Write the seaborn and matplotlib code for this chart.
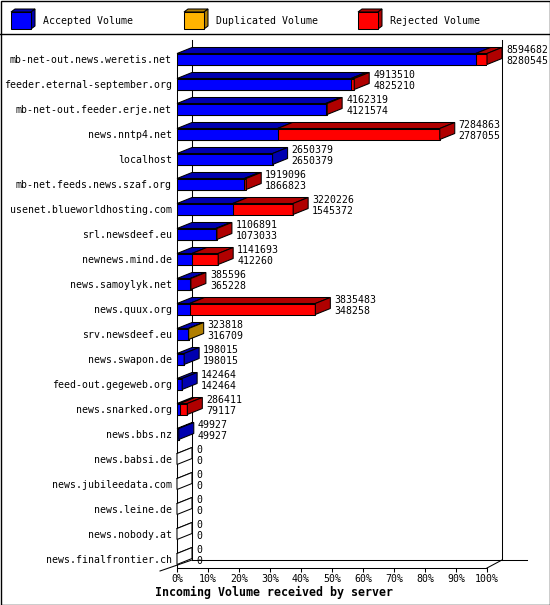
import matplotlib
matplotlib.use("Agg")
import matplotlib.pyplot as plt
from matplotlib.patches import Polygon, Rectangle
from matplotlib.lines import Line2D
import seaborn as sns
import numpy as np

servers = [
    "mb-net-out.news.weretis.net", "feeder.eternal-september.org", "mb-net-out.feeder.erje.net",
    "news.nntp4.net", "localhost", "mb-net.feeds.news.szaf.org", "usenet.blueworldhosting.com",
    "srl.newsdeef.eu", "newnews.mind.de", "news.samoylyk.net", "news.quux.org", "srv.newsdeef.eu",
    "news.swapon.de", "feed-out.gegeweb.org", "news.snarked.org", "news.bbs.nz", "news.babsi.de",
    "news.jubileedata.com", "news.leine.de", "news.nobody.at", "news.finalfrontier.ch",
]
accepted = [8280545, 4825210, 4121574, 2787055, 2650379, 1866823, 1545372, 1073033, 412260,
            365228, 348258, 316709, 198015, 142464, 79117, 49927, 0, 0, 0, 0, 0]
duplicated = [0, 0, 0, 0, 0, 0, 0, 0, 0, 0, 0, 7109, 0, 0, 0, 0, 0, 0, 0, 0, 0]
rejected = [314137, 88300, 40745, 4497808, 0, 52273, 1674854, 33858, 729433, 20368, 3487225,
            0, 0, 0, 207294, 0, 0, 0, 0, 0, 0]
tick_labels = ["0%", "10%", "20%", "30%", "40%", "50%", "60%", "70%", "80%", "90%", "100%"]
series_names = ["Accepted Volume", "Duplicated Volume", "Rejected Volume"]
xlabel = "Incoming Volume received by server"

front = ["#0000ff", "#ffb400", "#ff0000"]
dark = ["#0000b0", "#b07e00", "#b00000"]

plt.rcParams["font.family"] = ["DejaVu Sans Mono"]
FS = 7.1
W, H = 550, 605
fig = plt.figure(figsize=(W / 100, H / 100), dpi=100)

def fx(px):
    return px / W

def fy(py):
    return 1 - py / H

# axes: x 0..100% -> px 177..487 ; y px 40..568
ax = fig.add_axes([fx(177), fy(568), 310 / W, 528 / H])

acc = np.array(accepted, float)
dup = np.array(duplicated, float)
rej = np.array(rejected, float)
tot = acc + dup + rej
mx = tot.max()
p_acc = acc / mx * 100
p_ad = (acc + dup) / mx * 100
p_tot = tot / mx * 100

BW = 0.44
common = dict(y=servers, orient="y", width=BW, edgecolor="black", linewidth=0.75,
              saturation=1, errorbar=None, ax=ax, zorder=3)
sns.barplot(x=p_tot, color=front[2], **common)
sns.barplot(x=p_ad, color=front[1], **common)
sns.barplot(x=p_acc, color=front[0], **common)

ax.set_xlim(0, 100)
ax.set_ylim(20.36, -0.76)

DX = 15 / 3.1
DY = 6 / 25.0
FDY = 8 / 25.0

blue_patches = ax.containers[-1].patches
for i, p in enumerate(blue_patches):
    yt = p.get_y()
    yb = yt + p.get_height()
    segs = [(0, p_acc[i], 0), (p_acc[i], p_ad[i], 1), (p_ad[i], p_tot[i], 2)]
    last = 0
    for x0, x1, k in segs:
        if x1 - x0 > 0:
            ax.add_patch(Polygon([(x0, yt), (x1, yt), (x1 + DX, yt - DY), (x0 + DX, yt - DY)],
                                 closed=True, facecolor=dark[k], edgecolor="black",
                                 lw=0.75, clip_on=False, zorder=4))
            last = k
    t = p_tot[i]
    if t > 0:
        fc = dark[last]
    else:
        fc = "white"
        ax.add_line(Line2D([0, DX], [yt, yt - DY], color="black", lw=0.75, zorder=4, clip_on=False))
    ax.add_patch(Polygon([(t, yt), (t + DX, yt - DY), (t + DX, yb - DY), (t, yb)], closed=True,
                         facecolor=fc, edgecolor="black", lw=0.75, clip_on=False, zorder=4))
    yc = (yt + yb) / 2
    xt = t + DX + 4 / 3.1
    ax.text(xt, yc - 0.36, f"{int(tot[i])}", fontsize=FS, va="center", ha="left", clip_on=False)
    ax.text(xt, yc + 0.07, f"{int(acc[i])}", fontsize=FS, va="center", ha="left", clip_on=False)

# walls / floor
yfloor_back = 20.36 - FDY
ax.add_line(Line2D([DX, DX], [-0.76, yfloor_back], color="black", lw=0.75, zorder=1, clip_on=False))
ax.add_line(Line2D([100 + DX, 100 + DX], [-0.76, yfloor_back], color="black", lw=0.75, zorder=1, clip_on=False))
ax.add_line(Line2D([DX, (527 - 177) / 3.1], [yfloor_back, yfloor_back], color="black", lw=0.75, zorder=1, clip_on=False))
ax.add_line(Line2D([100, 100 + DX], [20.36, yfloor_back], color="black", lw=0.75, zorder=1, clip_on=False))
ax.add_line(Line2D([-17 / 3.1, DX], [20.48, yfloor_back], color="black", lw=0.75, zorder=1, clip_on=False))

for s in ["top", "right"]:
    ax.spines[s].set_visible(False)
ax.spines["left"].set_bounds(20.36, blue_patches[0].get_y())
ax.spines["left"].set_linewidth(0.75)
ax.spines["bottom"].set_linewidth(0.75)
ax.patch.set_alpha(0)

ax.set_xticks(np.arange(0, 101, 10))
ax.set_xticklabels(tick_labels, fontsize=FS)
ax.tick_params(axis="x", direction="out", length=3, width=0.75, pad=1.5)
ax.tick_params(axis="y", length=0, pad=3.6, labelsize=FS)
ax.set_xlabel("")
ax.set_ylabel("")

fig.text(fx(155), fy(592), xlabel, fontsize=8.4, fontweight="bold", va="center", ha="left")

# legend
fig.add_artist(Line2D([0, 1], [fy(34), fy(34)], color="black", lw=1, transform=fig.transFigure))
leg_x = [11, 184, 358]
for k in range(3):
    x0 = leg_x[k]
    x1 = x0 + 20
    y0, y1 = 12, 29
    d, e = 4, 3
    fig.add_artist(Polygon([(fx(x0), fy(y0)), (fx(x1), fy(y0)), (fx(x1 + d), fy(y0 - e)), (fx(x0 + d), fy(y0 - e))],
                           closed=True, facecolor=dark[k], edgecolor="black", lw=0.75, transform=fig.transFigure))
    fig.add_artist(Polygon([(fx(x1), fy(y0)), (fx(x1 + d), fy(y0 - e)), (fx(x1 + d), fy(y1 - e)), (fx(x1), fy(y1))],
                           closed=True, facecolor=dark[k], edgecolor="black", lw=0.75, transform=fig.transFigure))
    fig.add_artist(Rectangle((fx(x0), fy(y1)), fx(20), 17 / H, facecolor=front[k], edgecolor="black",
                             lw=0.75, transform=fig.transFigure))
    fig.text(fx(x0 + 32), fy(20.5), series_names[k], fontsize=FS, va="center", ha="left")

fig.add_artist(Rectangle((0.5 / W, 0.5 / H), 1 - 1 / W, 1 - 1 / H, fill=False, edgecolor="black", lw=1,
                         transform=fig.transFigure))

fig.savefig("out.png", dpi=100)
